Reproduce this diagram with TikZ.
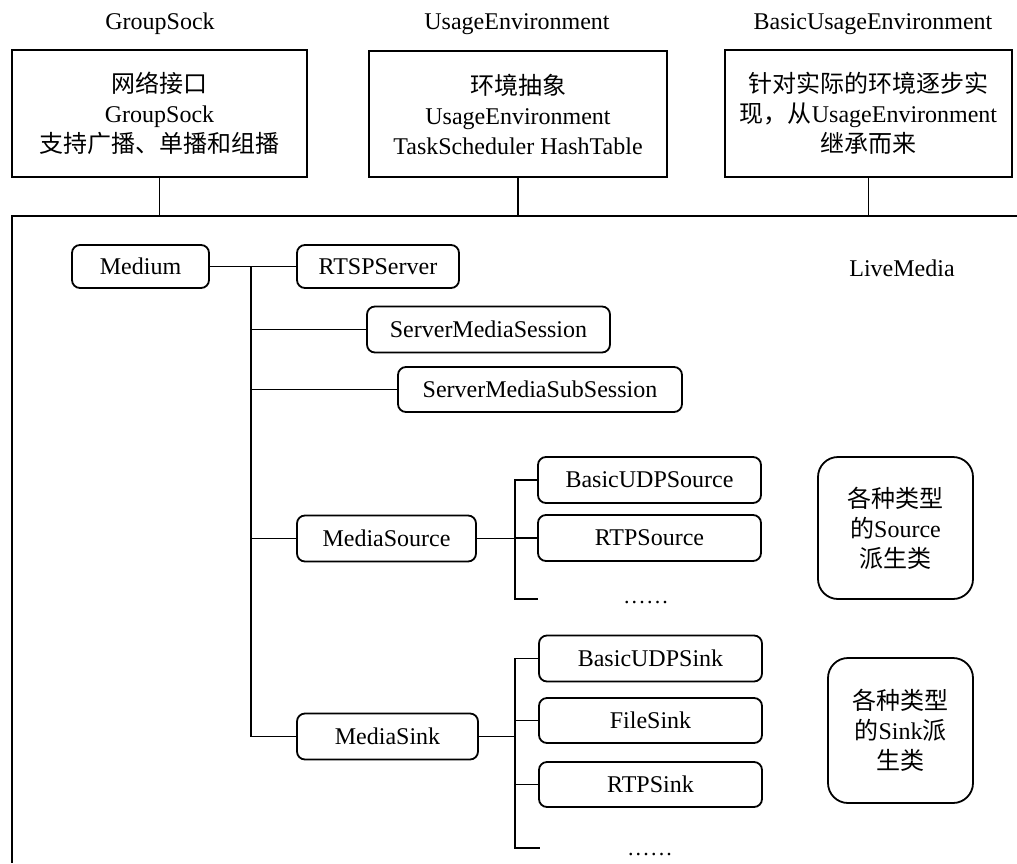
\documentclass[tikz,border=0pt]{standalone}
\usepackage{fontspec}
\setmainfont{Liberation Serif}
\newfontfamily\cjk{Noto Sans CJK SC}
\begin{document}
\begin{tikzpicture}[x=1pt,y=-1pt,line width=1.8pt,
  every node/.style={font=\fontsize{24}{30}\selectfont,text=black,align=center,inner sep=0pt},
  plainbox/.style={draw,rectangle},
  classbox/.style={draw,rounded corners=8pt},
  groupbox/.style={draw,rounded corners=20pt},
  dotrow/.style={anchor=base,font=\fontsize{22}{24}\selectfont}]
\useasboundingbox (0,0) rectangle (1017,863);

% module names above the boxes
\node (hGS)  at (160,24) {GroupSock};
\node (hUE)  at (517,24) {UsageEnvironment};
\node (hBUE) at (873,24) {BasicUsageEnvironment};

% top-level modules
\node[plainbox,minimum width=295,minimum height=127] (gs) at (159.5,113.5)
  {{\cjk 网络接口}\\GroupSock\\{\cjk 支持广播、单播和组播}};
\node[plainbox,minimum width=298,minimum height=126] (ue) at (518,114)
  {{\cjk 环境抽象}\\UsageEnvironment\\TaskScheduler HashTable};
\node[plainbox,minimum width=287,minimum height=127] (bue) at (868.5,113.5)
  {{\cjk 针对实际的环境逐步实}\\{\cjk 现，从}UsageEnvironment\\{\cjk 继承而来}};

% LiveMedia frame (open to the right and bottom)
\coordinate (lmtop) at (12,216);
\draw (1017,216) -- (lmtop) -- (12,863);
\node (lm) at (902,268) {LiveMedia};
\draw (gs.south)  -- (gs.south  |- lmtop);
\draw (ue.south)  -- (ue.south  |- lmtop);
\draw (bue.south) -- (bue.south |- lmtop);

% class hierarchy
\node[classbox,minimum width=137,minimum height=43] (medium) at (140.5,266.5) {Medium};
\node[classbox,minimum width=162,minimum height=43] (rtsp)   at (378,266.5)   {RTSPServer};
\node[classbox,minimum width=243,minimum height=46] (sms)    at (488.5,329.5) {ServerMediaSession};
\node[classbox,minimum width=284,minimum height=45] (smss)   at (540,389.5)   {ServerMediaSubSession};
\node[classbox,minimum width=179,minimum height=46] (msrc)   at (386.5,538.5) {MediaSource};
\node[classbox,minimum width=181,minimum height=46] (msink)  at (387.5,736.5) {MediaSink};

\node[classbox,minimum width=223,minimum height=46] (bus)    at (649.5,480)   {BasicUDPSource};
\node[classbox,minimum width=223,minimum height=46] (rtps)   at (649.5,538)   {RTPSource};
\node[classbox,minimum width=223,minimum height=46] (busk)   at (650.5,658.5) {BasicUDPSink};
\node[classbox,minimum width=223,minimum height=45] (fsink)  at (650.5,720.5) {FileSink};
\node[classbox,minimum width=223,minimum height=45] (rtpsk)  at (650.5,784.5) {RTPSink};

\node[dotrow] (srcdots) at (646,603)
  {\makebox[7.7pt]{.}\makebox[7.7pt]{.}\makebox[7.7pt]{.}\makebox[7.7pt]{.}\makebox[7.7pt]{.}\makebox[7.7pt]{.}};
\node[dotrow] (snkdots) at (650,855)
  {\makebox[7.7pt]{.}\makebox[7.7pt]{.}\makebox[7.7pt]{.}\makebox[7.7pt]{.}\makebox[7.7pt]{.}\makebox[7.7pt]{.}};

\node[groupbox,minimum width=155,minimum height=142] (srcgrp) at (895.5,528)
  {{\cjk 各种类型}\\{\cjk 的}Source\\{\cjk 派生类}};
\node[groupbox,minimum width=145,minimum height=145] (snkgrp) at (900.5,730.5)
  {{\cjk 各种类型}\\{\cjk 的}Sink{\cjk 派}\\{\cjk 生类}};

% trunk from Medium
\coordinate (trunk) at (251,0);
\draw (medium.east) -- (rtsp.west);
\draw (trunk |- medium.east) -- (trunk |- msink.west);
\draw (trunk |- sms.west)   -- (sms.west);
\draw (trunk |- smss.west)  -- (smss.west);
\draw (trunk |- msrc.west)  -- (msrc.west);
\draw (trunk |- msink.west) -- (msink.west);

% source branch
\coordinate (branch) at (515,0);
\coordinate (srcend) at (538,599);
\draw (msrc.east) -- (branch |- msrc.east);
\draw (bus.west) -| (branch |- srcend) -- (srcend);
\draw (rtps.west) -- (branch |- rtps.west);

% sink branch
\coordinate (snkend) at (540,848);
\draw (msink.east) -- (branch |- msink.east);
\draw (busk.west) -| (branch |- snkend) -- (snkend);
\draw (fsink.west) -- (branch |- fsink.west);
\draw (rtpsk.west) -- (branch |- rtpsk.west);
\end{tikzpicture}
\end{document}
